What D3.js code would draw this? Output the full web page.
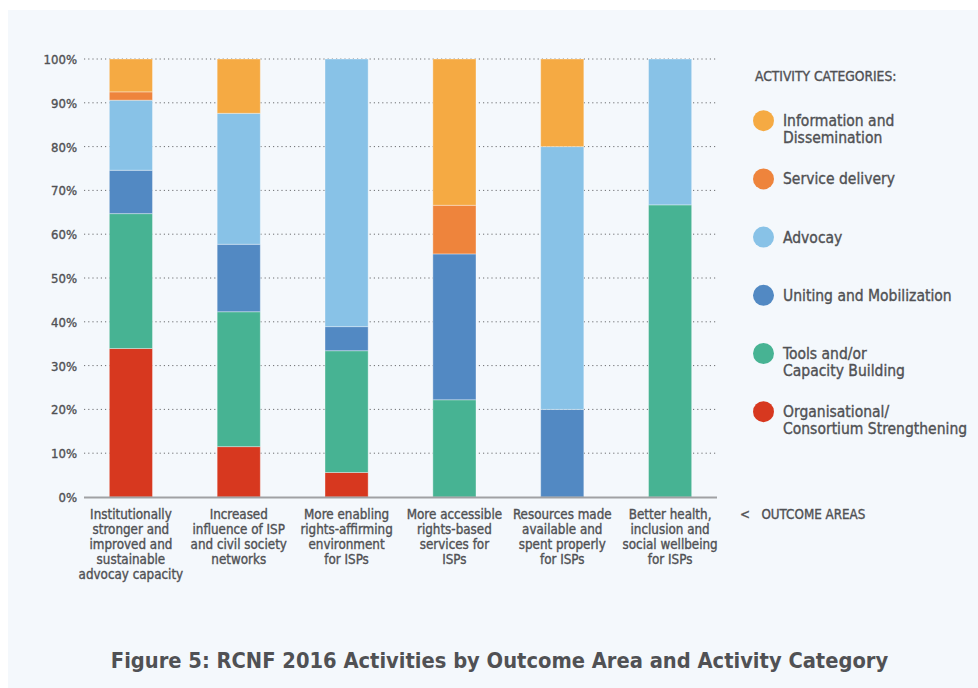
<!DOCTYPE html>
<html><head><meta charset="utf-8">
<script src="https://cdn.jsdelivr.net/npm/d3@7"></script>
<style>
html,body{margin:0;padding:0;background:#fff;}
svg{display:block;}
text{font-family:"DejaVu Sans Condensed","DejaVu Sans",sans-serif;fill:#505154;}
.heavy{stroke:#505154;stroke-width:0.35px;}
</style></head>
<body>
<svg id="chart" width="978" height="688"></svg>
<script>
const categories = [
  ["Institutionally","stronger and","improved and","sustainable","advocay capacity"],
  ["Increased","influence of ISP","and civil society","networks"],
  ["More enabling","rights-affirming","environment","for ISPs"],
  ["More accessible","rights-based","services for","ISPs"],
  ["Resources made","available and","spent properly","for ISPs"],
  ["Better health,","inclusion and","social wellbeing","for ISPs"]
];
const seriesNames = ["Organisational/ Consortium Strengthening","Tools and/or Capacity Building","Uniting and Mobilization","Advocay","Service delivery","Information and Dissemination"];
const legendLabels = [
  ["Information and","Dissemination"],
  ["Service delivery"],
  ["Advocay"],
  ["Uniting and Mobilization"],
  ["Tools and/or","Capacity Building"],
  ["Organisational/","Consortium Strengthening"]
];
const organisational = [33.9, 11.5, 5.6, 0, 0, 0];
const tools          = [30.8, 30.8, 27.8, 22.2, 0, 66.7];
const uniting        = [9.9, 15.4, 5.5, 33.3, 20, 0];
const advocacy       = [16.0, 29.9, 61.1, 0, 60, 33.3];
const service        = [1.9, 0, 0, 11.1, 0, 0];
const information    = [7.5, 12.4, 0, 33.4, 20, 0];
const yTicks = [0,10,20,30,40,50,60,70,80,90,100];
const colors = ["#d7381f","#47b393","#5289c3","#88c2e7","#ee843c","#f5aa43"];
const legendColors = ["#f5aa43","#ee843c","#88c2e7","#5289c3","#47b393","#d7381f"];

const svg = d3.select("#chart");
svg.append("rect").attr("x",8).attr("y",10).attr("width",970).attr("height",678).attr("fill","#f4f8fc");

const x = d3.scaleBand().domain(d3.range(categories.length)).range([84,717]).paddingInner(0.6).paddingOuter(0.235);
const y = d3.scaleLinear().domain([0,100]).range([497,59]);

// grid
svg.append("g").selectAll("line").data(yTicks.filter(d=>d>0)).join("line")
  .attr("x1",84).attr("x2",717).attr("y1",d=>y(d)).attr("y2",d=>y(d))
  .attr("stroke","#6d6e71").attr("stroke-width",1).attr("stroke-dasharray","1.2,3");

// y labels
const yAxis = d3.axisLeft(y).tickValues(yTicks).tickFormat(d=>d+"%").tickSize(0).tickPadding(7);
const ya = svg.append("g").attr("transform","translate(84,0)").call(yAxis);
ya.select(".domain").remove();
ya.selectAll("text").attr("class","heavy").style("font-size","13px").attr("fill","#505154").attr("dy","0.35em").style("font-family",null);
ya.attr("font-family",null).attr("font-size",null);

// stacked bars
const rows = categories.map((c,i)=>({i, organisational:organisational[i], tools:tools[i], uniting:uniting[i], advocacy:advocacy[i], service:service[i], information:information[i]}));
const keys = ["organisational","tools","uniting","advocacy","service","information"];
const stack = d3.stack().keys(keys)(rows);
svg.append("g").selectAll("g").data(stack).join("g").attr("fill",(d,i)=>colors[i])
  .selectAll("rect").data(d=>d.filter(s=>s[1]-s[0]>0)).join("rect")
  .attr("x",d=>x(d.data.i)).attr("width",x.bandwidth())
  .attr("y",d=>y(d[1])).attr("height",d=>y(d[0])-y(d[1]))
  .attr("stroke","#ffffff").attr("stroke-opacity",0.35).attr("stroke-width",1);

// x axis line
svg.append("line").attr("x1",84).attr("x2",717).attr("y1",497.5).attr("y2",497.5).attr("stroke","#a0a1a4").attr("stroke-width",2);

// x labels
const xl = svg.append("g").selectAll("text").data(categories).join("text")
  .attr("class","heavy")
  .attr("x",(d,i)=>x(i)+x.bandwidth()/2).attr("y",519).attr("text-anchor","middle")
  .style("font-size","13.3px");
xl.selectAll("tspan").data(d=>d).join("tspan").attr("x",function(){return d3.select(this.parentNode).attr("x");})
  .attr("dy",(d,i)=>i===0?0:15).text(d=>d);

svg.append("text").attr("class","heavy").attr("x",740).attr("y",519).style("font-size","13.3px").attr("xml:space","preserve").text("<   OUTCOME AREAS");

// legend
svg.append("text").attr("class","heavy").attr("x",755).attr("y",81).style("font-size","13.7px").text("ACTIVITY CATEGORIES:");
const ly = d3.scaleLinear().domain([0,5]).range([120.7,411.7]);
const lg = svg.append("g").selectAll("g").data(legendLabels).join("g")
  .attr("transform",(d,i)=>`translate(0,${ly(i)})`);
lg.append("circle").attr("cx",763.5).attr("cy",0).attr("r",10.5).attr("fill",(d,i)=>legendColors[i]);
lg.append("text").attr("class","heavy").attr("x",783).attr("y",5.5).style("font-size","15.5px")
  .selectAll("tspan").data(d=>d).join("tspan").attr("x",783).attr("dy",(d,i)=>i===0?0:17).text(d=>d);

// title
svg.append("text").attr("x",499.5).attr("y",668).attr("text-anchor","middle")
  .style("font-size","21.7px").style("font-weight","bold").attr("fill","#55565a")
  .text("Figure 5: RCNF 2016 Activities by Outcome Area and Activity Category");
</script>
</body></html>
